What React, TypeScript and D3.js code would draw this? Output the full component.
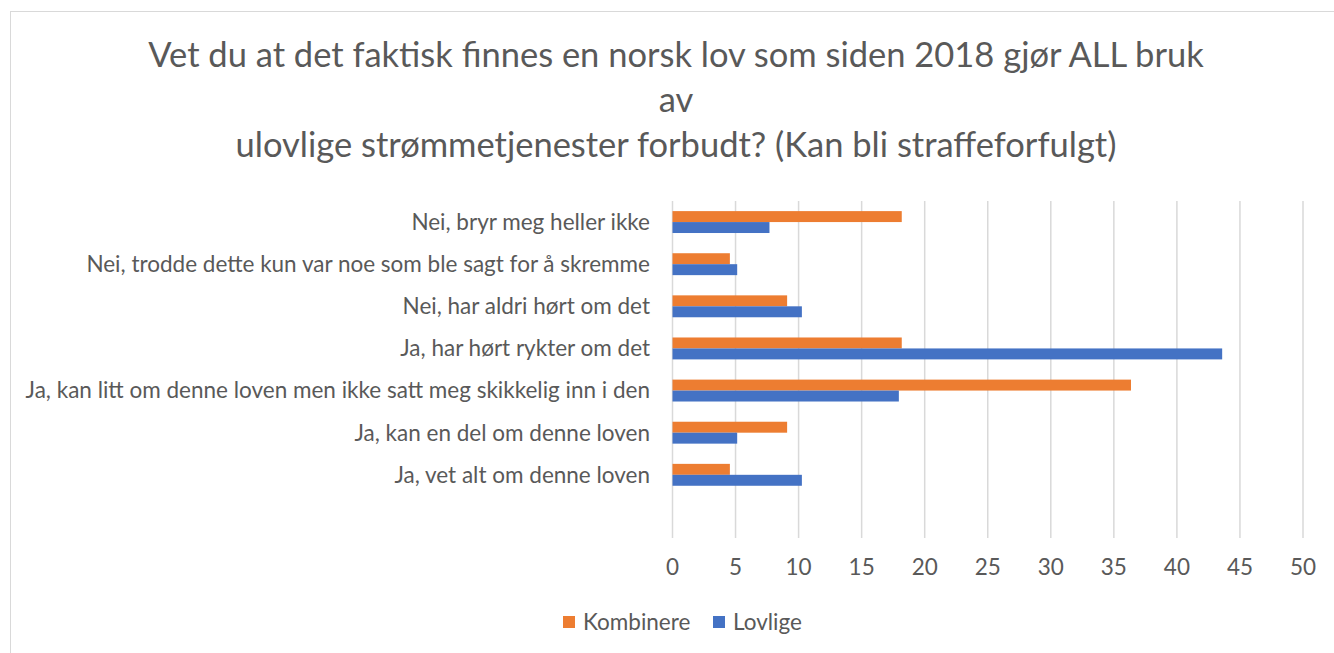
import React, { useEffect, useRef } from "react";
import * as d3 from "d3";

// answers, top to bottom (last one is the empty row Excel leaves at the bottom)
const categories = [
  "Nei, bryr meg heller ikke",
  "Nei, trodde dette kun var noe som ble sagt for å skremme",
  "Nei, har aldri hørt om det",
  "Ja, har hørt rykter om det",
  "Ja, kan litt om denne loven men ikke satt meg skikkelig inn i den",
  "Ja, kan en del om denne loven",
  "Ja, vet alt om denne loven",
  "",
];
const kombinere = [18.18, 4.55, 9.09, 18.18, 36.36, 9.09, 4.55, null];
const lovlige = [7.69, 5.13, 10.26, 43.59, 17.95, 5.13, 10.26, null];
const seriesNames = ["Kombinere", "Lovlige"];
const xTicks = [0, 5, 10, 15, 20, 25, 30, 35, 40, 45, 50];
const titleLines = [
  "Vet du at det faktisk finnes en norsk lov som siden 2018 gjør ALL bruk",
  "av",
  "ulovlige strømmetjenester forbudt? (Kan bli straffeforfulgt)",
];

const W = 1334;
const H = 653;
const colors = ["#ED7D31", "#4472C4"];
const textColor = "#595959";
const font = "Lato, 'Open Sans', sans-serif";

export default function App() {
  const ref = useRef<SVGSVGElement>(null);

  useEffect(() => {
    const svg = d3.select(ref.current);
    svg.selectAll("*").remove();

    // chart border
    svg.append("rect")
      .attr("x", 10.5).attr("y", 11.5)
      .attr("width", W).attr("height", H)
      .attr("fill", "white").attr("stroke", "#D9D9D9");

    const title = svg.append("text")
      .attr("text-anchor", "middle")
      .attr("font-family", font)
      .attr("font-size", 34.5)
      .attr("fill", textColor);
    titleLines.forEach((t, i) => {
      title.append("tspan").attr("x", 676).attr("y", 67 + i * 45).text(t);
    });

    const left = 672.5, right = 1303, top = 201, bottom = 538;
    const x = d3.scaleLinear().domain([0, 50]).range([left, right]);
    const y = d3.scaleBand().domain(categories.map((c, i) => i + "")).range([top, bottom]).paddingInner(0.48).paddingOuter(0.24);
    const ySub = d3.scaleBand().domain(seriesNames).range([0, y.bandwidth()]);

    svg.append("g").selectAll("line")
      .data(xTicks).enter().append("line")
      .attr("x1", (d) => x(d)).attr("x2", (d) => x(d))
      .attr("y1", top).attr("y2", bottom)
      .attr("stroke", "#D9D9D9").attr("stroke-width", 1.5);

    svg.append("g").selectAll("text")
      .data(xTicks).enter().append("text")
      .attr("x", (d) => x(d)).attr("y", 575)
      .attr("text-anchor", "middle")
      .attr("font-family", font).attr("font-size", 22.5)
      .attr("fill", textColor)
      .text((d) => d);

    [kombinere, lovlige].forEach((vals, s) => {
      svg.append("g").selectAll("rect")
        .data(vals.map((v, i) => ({ v, i })).filter((d) => d.v != null))
        .enter().append("rect")
        .attr("x", x(0))
        .attr("y", (d) => (y(d.i + "") as number) + (ySub(seriesNames[s]) as number))
        .attr("width", (d) => x(d.v as number) - x(0))
        .attr("height", ySub.bandwidth())
        .attr("fill", colors[s]);
    });

    svg.append("g").selectAll("text")
      .data(categories).enter().append("text")
      .attr("x", 650)
      .attr("y", (d, i) => (y(i + "") as number) + y.bandwidth() / 2)
      .attr("dy", "0.35em")
      .attr("text-anchor", "end")
      .attr("font-family", font).attr("font-size", 22.5)
      .attr("fill", textColor)
      .text((d) => d);

    // legend
    const legendX = [563, 713];
    seriesNames.forEach((name, s) => {
      svg.append("rect")
        .attr("x", legendX[s]).attr("y", 616)
        .attr("width", 12).attr("height", 12)
        .attr("fill", colors[s]);
      svg.append("text")
        .attr("x", legendX[s] + 20).attr("y", 622)
        .attr("dy", "0.35em")
        .attr("font-family", font).attr("font-size", 22.5)
        .attr("fill", textColor)
        .text(name);
    });
  }, []);

  return (
    <svg ref={ref} width={W} height={H} style={{ position: "absolute", left: 0, top: 0, background: "white" }} />
  );
}
